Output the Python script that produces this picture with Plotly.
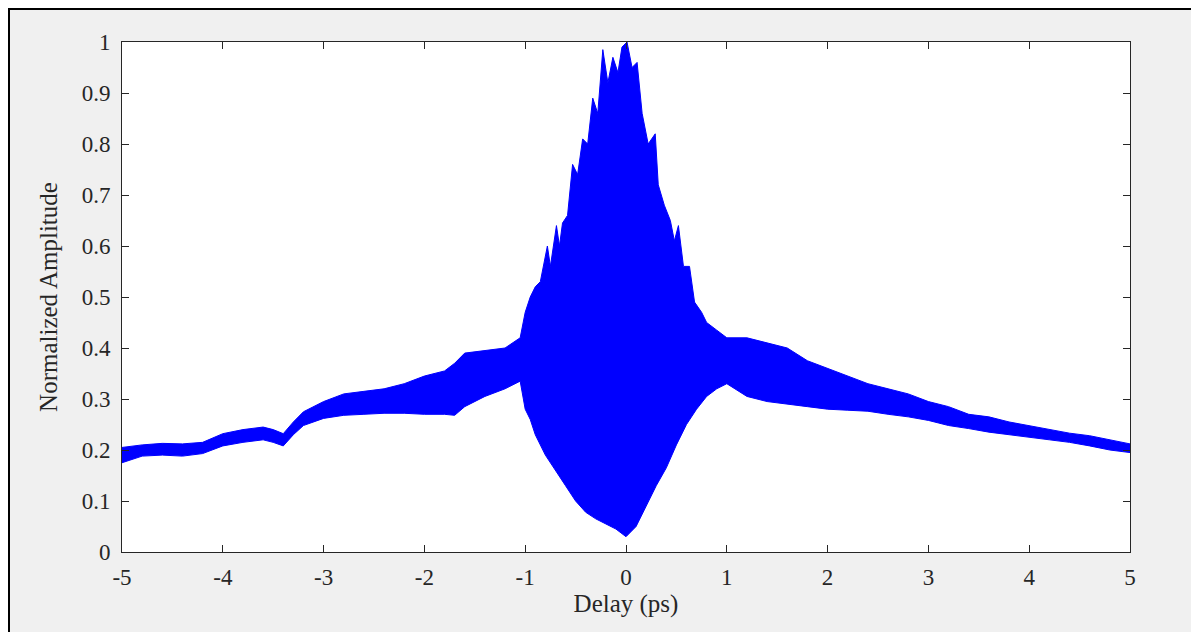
import plotly.graph_objects as go

# Upper envelope of the oscillating signal (delay in ps, amplitude)
upper_x = [-5.0, -4.8, -4.6, -4.4, -4.2, -4.0, -3.8, -3.6, -3.5, -3.4, -3.3, -3.2,
           -3.0, -2.8, -2.6, -2.4, -2.2, -2.0, -1.8, -1.7, -1.6, -1.4, -1.2, -1.05,
           -1.0, -0.95, -0.9, -0.85, -0.78, -0.75, -0.69, -0.66, -0.63, -0.58, -0.53, -0.48,
           -0.43, -0.38, -0.33, -0.28, -0.23, -0.18, -0.13, -0.08, -0.04, 0.01, 0.06, 0.11,
           0.16, 0.22, 0.29, 0.32, 0.38, 0.44, 0.48, 0.52, 0.57, 0.63, 0.68, 0.75,
           0.8, 0.9, 1.0, 1.2, 1.4, 1.6, 1.8, 2.0, 2.2, 2.4, 2.6, 2.8,
           3.0, 3.2, 3.4, 3.6, 3.8, 4.0, 4.2, 4.4, 4.6, 4.8, 5.0]
upper_y = [0.205, 0.21, 0.213, 0.212, 0.215, 0.232, 0.24, 0.245, 0.24, 0.232, 0.255, 0.275,
           0.295, 0.31, 0.315, 0.32, 0.33, 0.345, 0.355, 0.37, 0.39, 0.395, 0.40, 0.42,
           0.47, 0.50, 0.52, 0.53, 0.60, 0.56, 0.64, 0.60, 0.645, 0.66, 0.76, 0.74,
           0.81, 0.80, 0.89, 0.86, 0.985, 0.92, 0.97, 0.94, 0.99, 1.0, 0.95, 0.96,
           0.86, 0.80, 0.82, 0.72, 0.68, 0.65, 0.61, 0.64, 0.56, 0.56, 0.49, 0.47,
           0.45, 0.435, 0.42, 0.42, 0.41, 0.40, 0.375, 0.36, 0.345, 0.33, 0.32, 0.31,
           0.295, 0.285, 0.27, 0.265, 0.255, 0.248, 0.24, 0.233, 0.228, 0.22, 0.212]

# Lower envelope of the oscillating signal
lower_x = [-5.0, -4.8, -4.6, -4.4, -4.2, -4.0, -3.8, -3.6, -3.5, -3.4, -3.3, -3.2,
           -3.0, -2.8, -2.6, -2.4, -2.2, -2.0, -1.8, -1.7, -1.6, -1.4, -1.2, -1.05,
           -1.0, -0.95, -0.9, -0.8, -0.7, -0.6, -0.5, -0.4, -0.3, -0.2, -0.1, 0.0,
           0.1, 0.2, 0.3, 0.4, 0.5, 0.6, 0.7, 0.8, 0.9, 1.0, 1.2, 1.4, 1.6, 1.8,
           2.0, 2.2, 2.4, 2.6, 2.8, 3.0, 3.2, 3.4, 3.6, 3.8, 4.0, 4.2, 4.4, 4.6,
           4.8, 5.0]
lower_y = [0.175, 0.188, 0.19, 0.188, 0.193, 0.208, 0.215, 0.22, 0.215, 0.208, 0.23, 0.248,
           0.262, 0.268, 0.27, 0.272, 0.272, 0.27, 0.27, 0.268, 0.285, 0.305, 0.32, 0.335,
           0.28, 0.26, 0.23, 0.19, 0.16, 0.13, 0.10, 0.078, 0.065, 0.055, 0.045, 0.03,
           0.05, 0.09, 0.13, 0.165, 0.21, 0.25, 0.28, 0.305, 0.32, 0.33, 0.305, 0.295, 0.29, 0.285,
           0.28, 0.278, 0.276, 0.27, 0.265, 0.258, 0.248, 0.242, 0.235, 0.23, 0.225, 0.22, 0.215, 0.208,
           0.2, 0.195]

x_ticks = [-5, -4, -3, -2, -1, 0, 1, 2, 3, 4, 5]
x_tick_text = ["-5", "-4", "-3", "-2", "-1", "0", "1", "2", "3", "4", "5"]
y_ticks = [0, 0.1, 0.2, 0.3, 0.4, 0.5, 0.6, 0.7, 0.8, 0.9, 1]
y_tick_text = ["0", "0.1", "0.2", "0.3", "0.4", "0.5", "0.6", "0.7", "0.8", "0.9", "1"]

band_x = upper_x + lower_x[::-1]
band_y = upper_y + lower_y[::-1]

fig = go.Figure()
fig.add_trace(go.Scatter(x=band_x, y=band_y, mode="lines", fill="toself",
                         fillcolor="#0000ff", line=dict(color="#0000ff", width=1),
                         hoverinfo="skip", showlegend=False))

font_family = "Liberation Serif, Times New Roman, serif"
text_color = "#262626"
axis_common = dict(showline=True, mirror="ticks", linecolor=text_color, linewidth=1,
                   ticks="inside", ticklen=7, tickcolor=text_color, showgrid=False,
                   zeroline=False, tickfont=dict(family=font_family, size=23, color=text_color))

# page body has an 8px margin, so the figure is offset by 8px
W, H = 1191, 624
L, R, T, B = 114, 69, 34, 80
PW, PH = W - L - R, H - T - B

fig.update_layout(
    width=W, height=H,
    margin=dict(l=L, r=R, t=T, b=B),
    paper_bgcolor="#f0f0f0", plot_bgcolor="white",
    xaxis=dict(range=[-5, 5], tickvals=x_ticks, ticktext=x_tick_text, ticklabelstandoff=4,
               title=dict(text="Delay (ps)", font=dict(family=font_family, size=25, color=text_color),
                          standoff=2),
               **axis_common),
    yaxis=dict(range=[0, 1], tickvals=y_ticks, ticktext=y_tick_text, ticklabelstandoff=6,
               title=dict(text="Normalized Amplitude", font=dict(family=font_family, size=25, color=text_color),
                          standoff=16),
               **axis_common),
)

# outer black frame around the figure (bottom edge runs past the page)
fig.add_shape(type="rect", xref="paper", yref="paper",
              x0=(1 - L) / PW, x1=(W - 2 - L) / PW,
              y0=-(B + 20) / PH, y1=(H - B - 1) / PH,
              line=dict(color="black", width=2), fillcolor="rgba(0,0,0,0)", layer="above")

fig.write_html("out.html")
